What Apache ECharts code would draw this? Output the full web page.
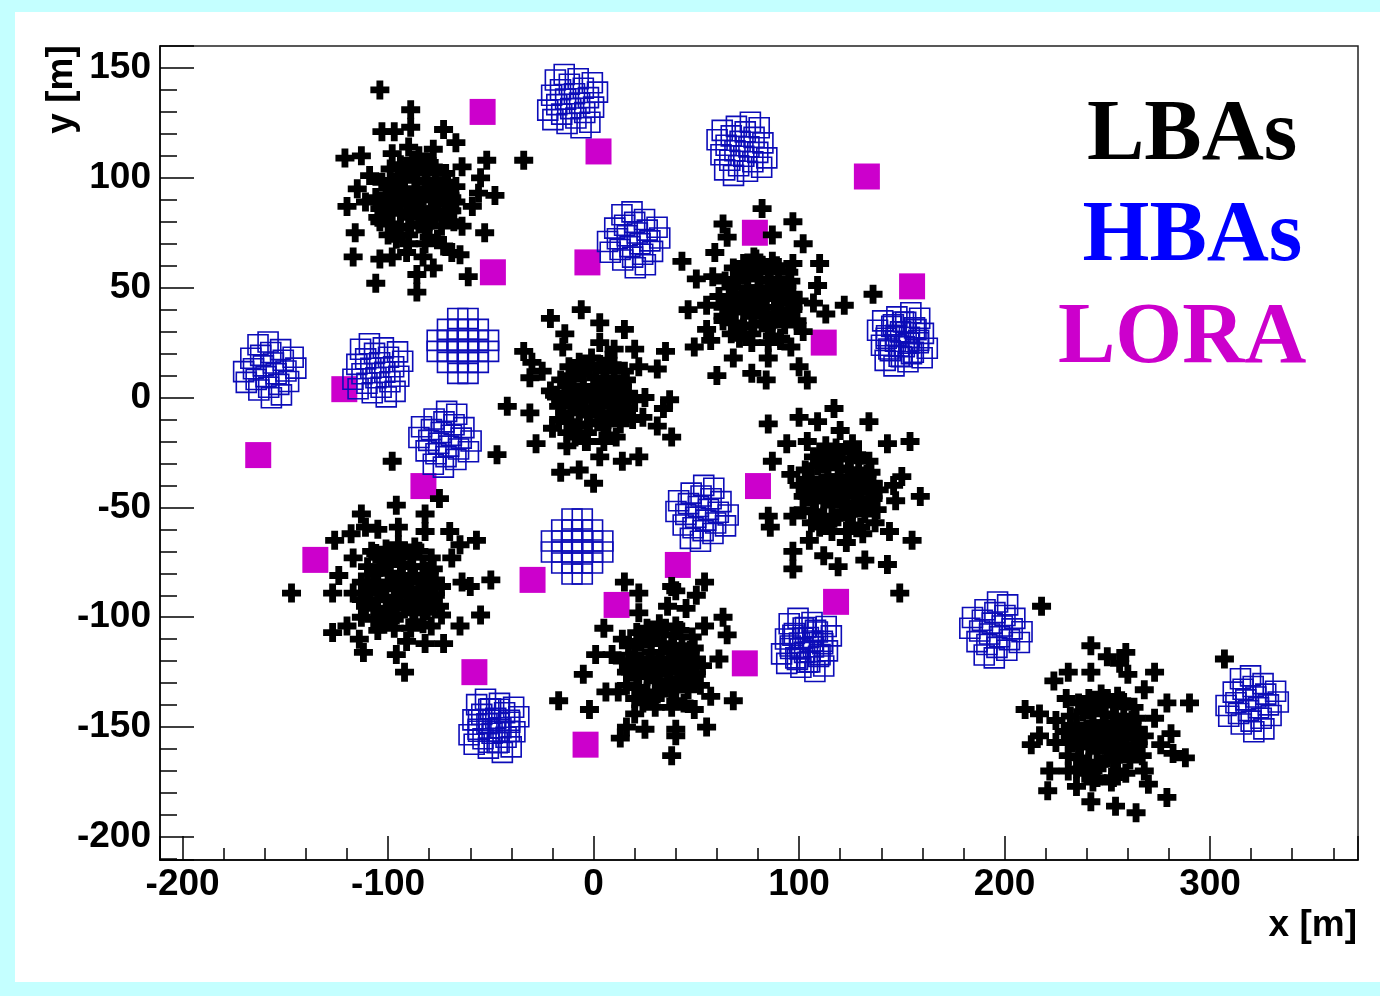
<!DOCTYPE html>
<html><head><meta charset="utf-8">
<script src="https://cdn.jsdelivr.net/npm/echarts@6/dist/echarts.min.js"></script>
<style>
html,body{margin:0;padding:0;background:#c4ffff;}
#wrap{position:relative;width:1380px;height:996px;background:#c4ffff;overflow:hidden;}
#panel{position:absolute;left:15px;top:12px;width:1365px;height:970px;background:#fff;}
#chart{position:absolute;left:0;top:0;width:1380px;height:996px;}
</style></head><body>
<div id="wrap"><div id="panel"></div><div id="chart"></div></div>
<script>
// axis ranges (metres)
const X_MIN = -211, X_MAX = 372, Y_MIN = -210.5, Y_MAX = 160;
const X_STEP = 100, Y_STEP = 50;

// LORA detectors
const loraDetectors = [
  [-54,130],[2.4,112],[133,100.6],[-49,57],[-3,61.5],[78.5,75],[155,50.6],[112,25],
  [-121.3,3.8],[-163.2,-26.2],[-82.8,-40.3],[80,-40.3],[-135.4,-73.9],[-29.7,-83],
  [41,-76.2],[11.2,-94.4],[118,-93],[-58,-125],[73.6,-121],[-3.9,-158]
];

// LBA stations (antenna positions, metres)
const lbaStation1 = [
  [-104,140],[-89,131],[-103,121],[-97,121],[-89,123],[-73,122],[-67,116],[-78,113],[-90,114],[-98,111],
  [-85,110],[-121,109],[-113,110],[-52,108],[-34,108],[-64,105],[-91,105],[-109,101],[-72,102],[-55,100],
  [-115,95],[-67,96],[-48,92],[-56,93],[-120,87],[-111,89],[-59,87],[-105,82],[-69,85],[-116,75],
  [-64,78],[-53,75],[-117,64],[-104,63],[-98,64],[-91,66],[-83,64],[-73,69],[-69,66],[-65,65],
  [-78,59],[-86,56],[-106,52],[-61,55],[-86,48],
  [-86,89],[-80,94],[-92,95],[-94,84],[-78,83],[-86,99],[-85,79],[-98,91],[-74,91],[-81,103],
  [-95,101],[-99,79],[-74,78],[-90,74],[-80,73],[-71,98],[-102,87],[-88,85],[-83,92],[-91,89],
  [-77,99],[-100,96],[-72,85],[-94,77],[-82,78],[-89,104],[-76,88],
  [-84,86],[-88,92],[-90,82],[-82,98],[-96,88],[-78,90],[-92,99],[-80,80],[-98,84],[-75,95],
  [-87,95],[-83,83],[-93,92],[-79,86],[-89,78],[-97,97],[-73,82],[-85,105],[-101,92],[-69,91],
  [-70,92],[-72,102],[-80,107],[-94,106],[-103,98],[-104,86],[-100,74],[-90,70],[-76,72],[-68,80],
  [-67,89],[-78,105],[-99,104],[-106,91],[-96,72],[-82,70],[-70,85],[-88,108],[-104,80],[-73,96]
];
const lbaStation2 = [
  [82,86],[97,80],[63,79],[102,70],[65,73],[87,74],[59,66],[43,62],[78,64],[110,61],
  [97,61],[50,54],[58,55],[109,51],[136,47],[122,42],[46,40],[55,42],[113,38],[107,43],
  [102,30],[63,37],[55,31],[57,26],[49,23],[68,18],[85,18],[77,11],[84,8],[60,10],
  [96,23],[100,14],[104,8],[91,26],
  [81,44],[87,49],[75,50],[73,39],[89,38],[81,54],[82,34],[69,46],[93,46],[86,58],
  [72,56],[68,34],[93,33],[77,29],[87,28],[96,53],[65,42],[79,40],[84,47],[76,44],
  [90,54],[67,51],[95,40],[73,32],[85,33],[78,59],[91,43],
  [83,41],[79,47],[77,37],[85,53],[71,43],[89,45],[75,54],[87,35],[69,39],[92,50],
  [80,50],[84,38],[74,47],[88,41],[78,33],[70,53],[94,36],[82,60],[66,46],[96,45],
  [97,47],[95,57],[87,62],[73,61],[64,53],[63,41],[67,29],[77,25],[91,27],[99,35],
  [100,44],[89,60],[68,59],[61,46],[71,27],[85,25],[97,40],[79,63],[63,35],[94,51]
];
const lbaStation3 = [
  [-21,36],[-6,40],[3,34],[15,31],[-14,29],[-15,23],[-34,21],[-30,16],[3,25],[10,22],
  [20,22],[35,21],[22,14],[31,13],[-31,9],[-25,12],[-42,-4],[-31,-7],[-21,3],[25,0],
  [37,-1],[34,-5],[24,-9],[31,-13],[38,-18],[-20,-14],[-28,-21],[-13,-22],[-4,-20],[3,-27],
  [14,-29],[22,-27],[-16,-34],[-7,-33],[0,-39],[-47,-26],
  [1,-1],[7,4],[-5,5],[-7,-6],[9,-7],[1,9],[2,-11],[-11,1],[13,1],[6,13],
  [-8,11],[-12,-11],[13,-12],[-3,-16],[7,-17],[16,8],[-15,-3],[-1,-5],[4,2],[-4,-1],
  [10,9],[-13,6],[15,-5],[-7,-13],[5,-12],[-2,14],[11,-2],
  [3,-4],[-1,2],[-3,-8],[5,8],[-9,-2],[9,0],[-5,11],[7,-10],[-11,-7],[12,5],
  [0,5],[4,-7],[-6,2],[8,-3],[-2,-12],[-10,10],[14,-9],[3,15],[-14,2],[15,1],
  [17,2],[15,12],[7,17],[-7,16],[-16,8],[-17,-4],[-13,-16],[-3,-20],[11,-18],[19,-10],
  [20,-1],[9,15],[-12,14],[-19,1],[-9,-18],[5,-20],[17,-5],[-1,18],[-17,-10],[14,6]
];
const lbaStation4 = [
  [-98,-29],[-75,-46],[-96,-49],[-113,-53],[-82,-53],[-111,-59],[-105,-60],[-95,-59],[-118,-62],[-126,-65],
  [-82,-61],[-70,-61],[-57,-65],[-65,-67],[-117,-73],[-108,-70],[-69,-73],[-124,-81],[-50,-83],[-64,-84],
  [-60,-86],[-147,-89],[-127,-89],[-117,-89],[-113,-92],[-55,-99],[-65,-104],[-120,-104],[-113,-100],[-127,-107],
  [-105,-106],[-74,-99],[-79,-104],[-114,-110],[-112,-116],[-91,-111],[-82,-112],[-73,-112],[-96,-117],[-92,-125],
  [-93,-86],[-87,-81],[-99,-80],[-101,-91],[-85,-92],[-93,-76],[-92,-96],[-105,-84],[-81,-84],[-88,-72],
  [-101,-74],[-106,-96],[-81,-97],[-97,-101],[-87,-102],[-78,-78],[-109,-89],[-94,-90],[-89,-84],[-97,-86],
  [-83,-77],[-107,-80],[-79,-91],[-100,-98],[-88,-97],[-95,-71],[-84,-87],
  [-91,-89],[-95,-83],[-97,-93],[-89,-77],[-103,-87],[-85,-88],[-99,-76],[-87,-98],[-105,-92],[-82,-81],
  [-94,-81],[-90,-94],[-100,-84],[-86,-90],[-96,-99],[-104,-77],[-80,-95],[-92,-70],[-110,-85],[-78,-86],
  [-77,-83],[-79,-73],[-87,-68],[-101,-69],[-110,-77],[-111,-89],[-107,-101],[-97,-105],[-83,-103],[-75,-95],
  [-74,-86],[-85,-70],[-106,-71],[-113,-84],[-103,-103],[-89,-105],[-77,-90],[-95,-67],[-111,-95],[-80,-79]
];
const lbaStation5 = [
  [85,-12],[100,-9],[109,-11],[117,-5],[120,-15],[134,-11],[143,-21],[154,-20],[94,-21],[104,-20],
  [113,-22],[126,-21],[87,-29],[96,-35],[150,-36],[159,-45],[146,-40],[147,-47],[85,-54],[86,-59],
  [97,-54],[144,-61],[155,-65],[105,-65],[97,-70],[97,-78],[112,-72],[119,-77],[132,-74],[143,-76],
  [149,-89],[123,-66],[131,-62],[137,-57],
  [120,-42],[126,-37],[114,-36],[112,-47],[128,-48],[120,-32],[121,-52],[108,-40],[132,-40],[125,-28],
  [111,-30],[107,-52],[132,-53],[116,-57],[126,-58],[135,-34],[104,-45],[118,-46],[123,-40],[115,-42],
  [129,-33],[106,-37],[134,-46],[112,-54],[124,-53],[117,-27],[130,-43],
  [122,-45],[118,-39],[116,-49],[124,-33],[110,-43],[128,-42],[114,-31],[126,-51],[108,-47],[131,-36],
  [119,-36],[123,-49],[113,-39],[127,-45],[117,-55],[109,-31],[133,-49],[121,-25],[105,-40],[135,-41],
  [136,-39],[134,-29],[126,-24],[112,-25],[103,-33],[102,-45],[106,-57],[116,-61],[130,-59],[138,-51],
  [139,-42],[128,-26],[107,-27],[100,-40],[110,-59],[124,-61],[136,-46],[118,-23],[102,-51],[133,-35]
];
const lbaStation6 = [
  [15,-84],[22,-89],[38,-86],[40,-88],[50,-90],[54,-84],[22,-98],[36,-95],[45,-96],[5,-105],
  [14,-110],[54,-104],[63,-100],[65,-108],[1,-117],[9,-117],[-5,-126],[61,-119],[6,-134],[12,-134],
  [-2,-142],[-17,-138],[57,-136],[68,-138],[49,-142],[20,-144],[25,-151],[16,-150],[13,-155],[40,-151],
  [40,-154],[55,-150],[38,-163],
  [34,-122],[40,-117],[28,-116],[26,-127],[42,-128],[34,-112],[35,-132],[22,-120],[46,-120],[39,-108],
  [25,-110],[21,-132],[46,-133],[30,-137],[40,-138],[49,-114],[18,-125],[32,-126],[37,-120],[29,-122],
  [43,-113],[20,-117],[48,-126],[26,-134],[38,-133],[31,-107],[44,-123],
  [36,-125],[32,-119],[30,-129],[38,-113],[24,-123],[42,-122],[28,-111],[40,-131],[22,-127],[45,-116],
  [33,-116],[37,-129],[27,-119],[41,-125],[31,-135],[23,-111],[47,-129],[35,-105],[19,-120],[49,-121],
  [50,-119],[48,-109],[40,-104],[26,-105],[17,-113],[16,-125],[20,-137],[30,-141],[44,-139],[52,-131],
  [53,-122],[42,-106],[21,-107],[14,-120],[24,-139],[38,-141],[50,-126],[32,-103],[16,-131],[47,-115]
];
const lbaStation7 = [
  [218,-95],[307,-119],[242,-113],[250,-118],[259,-116],[256,-121],[260,-126],[273,-125],[231,-125],[242,-125],
  [224,-129],[268,-133],[230,-137],[290,-139],[279,-139],[210,-142],[217,-144],[225,-147],[273,-146],[217,-154],
  [213,-158],[225,-157],[281,-153],[276,-158],[282,-162],[288,-164],[222,-170],[231,-170],[268,-170],[270,-176],
  [221,-179],[235,-177],[243,-175],[252,-175],[242,-184],[254,-186],[264,-189],[279,-182],
  [249,-154],[255,-149],[243,-148],[241,-159],[257,-160],[249,-144],[250,-164],[237,-152],[261,-152],[254,-140],
  [240,-142],[236,-164],[261,-165],[245,-169],[255,-170],[264,-146],[233,-157],[247,-158],[252,-152],[244,-154],
  [258,-145],[235,-149],[263,-158],[241,-166],[253,-165],[246,-139],[259,-155],
  [251,-157],[247,-151],[245,-161],[253,-145],[239,-155],[257,-154],[243,-143],[255,-163],[237,-159],[260,-148],
  [248,-148],[252,-161],[242,-151],[256,-157],[246,-167],[238,-143],[262,-161],[250,-137],[234,-152],[264,-153],
  [265,-151],[263,-141],[255,-136],[241,-137],[232,-145],[231,-157],[235,-169],[245,-173],[259,-171],[267,-163],
  [268,-154],[257,-138],[236,-139],[229,-152],[239,-171],[253,-173],[265,-158],[247,-135],[231,-163],[262,-147]
];

// HBA fields (tile positions, metres)
const hbaFieldA = [
  [-163.3,24.0],[-158.4,25.3],[-166.8,17.9],[-162.0,19.2],[-157.1,20.5],[-152.3,21.8],[-170.3,11.8],[-165.5,13.1],
  [-160.7,14.4],[-155.8,15.7],[-151.0,17.0],[-146.2,18.3],[-169.0,6.9],[-164.2,8.2],[-159.4,9.5],[-154.5,10.8],
  [-149.7,12.1],[-144.9,13.4],[-162.9,3.4],[-158.1,4.7],[-153.2,6.0],[-148.4,7.3],[-156.8,-0.1],[-151.9,1.2]
];
const hbaFieldB = [
  [-113.4,22.0],[-109.1,24.5],[-115.2,15.1],[-110.9,17.6],[-106.6,20.1],[-102.3,22.6],[-117.1,8.3],[-112.7,10.8],
  [-108.4,13.3],[-104.1,15.8],[-99.8,18.3],[-95.4,20.8],[-114.6,4.0],[-110.3,6.5],[-105.9,9.0],[-101.6,11.5],
  [-97.3,14.0],[-92.9,16.5],[-107.7,2.2],[-103.4,4.7],[-99.1,7.2],[-94.8,9.7],[-100.9,0.3],[-96.6,2.8]
];
const hbaFieldC = [
  [-66.1,36.0],[-61.1,36.0],[-71.1,31.0],[-66.1,31.0],[-61.1,31.0],[-56.1,31.0],
  [-76.1,26.0],[-71.1,26.0],[-66.1,26.0],[-61.1,26.0],[-56.1,26.0],[-51.1,26.0],
  [-76.1,21.0],[-71.1,21.0],[-66.1,21.0],[-61.1,21.0],[-56.1,21.0],[-51.1,21.0],
  [-71.1,16.0],[-66.1,16.0],[-61.1,16.0],[-56.1,16.0],[-66.1,11.0],[-61.1,11.0]
];
const hbaFieldD = [
  [-66.6,-7.6],[-71.5,-6.3],[-63.1,-13.7],[-67.9,-12.4],[-72.8,-11.1],[-77.6,-9.8],[-59.6,-19.8],[-64.4,-18.5],
  [-69.2,-17.2],[-74.1,-15.9],[-78.9,-14.6],[-83.7,-13.3],[-60.9,-24.7],[-65.7,-23.4],[-70.5,-22.1],[-75.4,-20.8],
  [-80.2,-19.5],[-85.0,-18.2],[-67.0,-28.2],[-71.8,-26.9],[-76.7,-25.6],[-81.5,-24.3],[-73.1,-31.7],[-78.0,-30.4]
];
const hbaFieldE = [
  [-18.6,144.5],[-14.3,147.0],[-20.4,137.6],[-16.1,140.1],[-11.8,142.6],[-7.5,145.1],[-22.3,130.8],[-17.9,133.3],
  [-13.6,135.8],[-9.3,138.3],[-5.0,140.8],[-0.6,143.3],[-19.8,126.5],[-15.5,129.0],[-11.1,131.5],[-6.8,134.0],
  [-2.5,136.5],[1.9,139.0],[-12.9,124.7],[-8.6,127.2],[-4.3,129.7],[0.0,132.2],[-6.1,122.8],[-1.8,125.3]
];
const hbaFieldF = [
  [80.6,122.8],[76.3,125.3],[82.4,115.9],[78.1,118.4],[73.8,120.9],[69.5,123.4],[84.3,109.1],[79.9,111.6],
  [75.6,114.1],[71.3,116.6],[67.0,119.1],[62.6,121.6],[81.8,104.8],[77.5,107.3],[73.1,109.8],[68.8,112.3],
  [64.5,114.8],[60.1,117.3],[74.9,103.0],[70.6,105.5],[66.3,108.0],[62.0,110.5],[68.1,101.1],[63.8,103.6]
];
const hbaFieldG = [
  [13.8,83.2],[18.7,84.5],[10.3,77.1],[15.1,78.4],[20.0,79.7],[24.8,81.0],[6.8,71.0],[11.6,72.3],
  [16.4,73.6],[21.3,74.9],[26.1,76.2],[30.9,77.5],[8.1,66.1],[12.9,67.4],[17.7,68.7],[22.6,70.0],
  [27.4,71.3],[32.2,72.6],[14.2,62.6],[19.0,63.9],[23.9,65.2],[28.7,66.5],[20.3,59.1],[25.2,60.4]
];
const hbaFieldH = [
  [158.7,36.1],[154.4,38.6],[160.5,29.2],[156.2,31.7],[151.9,34.2],[147.6,36.7],[162.4,22.4],[158.0,24.9],
  [153.7,27.4],[149.4,29.9],[145.1,32.4],[140.7,34.9],[159.9,18.1],[155.6,20.6],[151.2,23.1],[146.9,25.6],
  [142.6,28.1],[138.2,30.6],[153.0,16.3],[148.7,18.8],[144.4,21.3],[140.1,23.8],[146.2,14.4],[141.9,16.9],
  [145.9,33.1],[150.8,34.4],[142.4,27.0],[147.2,28.3],[152.1,29.6],[156.9,30.9],[143.7,22.1],[148.5,23.4],
  [153.4,24.7],[158.2,26.0],[149.8,18.6],[154.7,19.9]
];
const hbaFieldI = [
  [58.5,-41.3],[53.6,-40.0],[62.0,-47.4],[57.2,-46.1],[52.3,-44.8],[47.5,-43.5],[65.5,-53.5],[60.7,-52.2],
  [55.9,-50.9],[51.0,-49.6],[46.2,-48.3],[41.4,-47.0],[64.2,-58.4],[59.4,-57.1],[54.6,-55.8],[49.7,-54.5],
  [44.9,-53.2],[40.1,-51.9],[58.1,-61.9],[53.3,-60.6],[48.4,-59.3],[43.6,-58.0],[52.0,-65.4],[47.1,-64.1]
];
const hbaFieldJ = [
  [-10.5,-55.3],[-5.5,-55.3],[-15.5,-60.3],[-10.5,-60.3],[-5.5,-60.3],[-0.5,-60.3],
  [-20.5,-65.3],[-15.5,-65.3],[-10.5,-65.3],[-5.5,-65.3],[-0.5,-65.3],[4.5,-65.3],
  [-20.5,-70.3],[-15.5,-70.3],[-10.5,-70.3],[-5.5,-70.3],[-0.5,-70.3],[4.5,-70.3],
  [-15.5,-75.3],[-10.5,-75.3],[-5.5,-75.3],[-0.5,-75.3],[-10.5,-80.3],[-5.5,-80.3]
];
const hbaFieldK = [
  [95.2,-103.0],[99.5,-100.5],[93.4,-109.9],[97.7,-107.4],[102.0,-104.9],[106.3,-102.4],[91.5,-116.7],[95.9,-114.2],
  [100.2,-111.7],[104.5,-109.2],[108.9,-106.7],[113.2,-104.2],[94.0,-121.0],[98.4,-118.5],[102.7,-116.0],[107.0,-113.5],
  [111.3,-111.0],[115.7,-108.5],[100.9,-122.8],[105.2,-120.3],[109.5,-117.8],[113.8,-115.3],[107.7,-124.7],[112.0,-122.2],
  [108.0,-106.0],[103.1,-104.7],[111.5,-112.1],[106.7,-110.8],[101.8,-109.5],[97.0,-108.2],[110.2,-117.0],[105.4,-115.7],
  [100.5,-114.4],[95.7,-113.1],[104.1,-120.5],[99.2,-119.2]
];
const hbaFieldL = [
  [-56.9,-139.8],[-52.6,-137.3],[-58.7,-146.7],[-54.4,-144.2],[-50.1,-141.7],[-45.8,-139.2],[-60.6,-153.5],[-56.2,-151.0],
  [-51.9,-148.5],[-47.6,-146.0],[-43.3,-143.5],[-38.9,-141.0],[-58.1,-157.8],[-53.8,-155.3],[-49.4,-152.8],[-45.1,-150.3],
  [-40.8,-147.8],[-36.4,-145.3],[-51.2,-159.6],[-46.9,-157.1],[-42.6,-154.6],[-38.3,-152.1],[-44.4,-161.5],[-40.1,-159.0],
  [-51.0,-141.9],[-46.0,-141.9],[-56.0,-146.9],[-51.0,-146.9],[-46.0,-146.9],[-41.0,-146.9],[-56.0,-151.9],[-51.0,-151.9],
  [-46.0,-151.9],[-41.0,-151.9],[-51.0,-156.9],[-46.0,-156.9]
];
const hbaFieldM = [
  [201.5,-94.4],[196.6,-93.1],[205.0,-100.5],[200.2,-99.2],[195.3,-97.9],[190.5,-96.6],[208.5,-106.6],[203.7,-105.3],
  [198.9,-104.0],[194.0,-102.7],[189.2,-101.4],[184.4,-100.1],[207.2,-111.5],[202.4,-110.2],[197.6,-108.9],[192.7,-107.6],
  [187.9,-106.3],[183.1,-105.0],[201.1,-115.0],[196.3,-113.7],[191.4,-112.4],[186.6,-111.1],[195.0,-118.5],[190.1,-117.2]
];
const hbaFieldN = [
  [314.8,-128.0],[319.7,-126.7],[311.3,-134.1],[316.1,-132.8],[321.0,-131.5],[325.8,-130.2],[307.8,-140.2],[312.6,-138.9],
  [317.4,-137.6],[322.3,-136.3],[327.1,-135.0],[331.9,-133.7],[309.1,-145.1],[313.9,-143.8],[318.7,-142.5],[323.6,-141.2],
  [328.4,-139.9],[333.2,-138.6],[315.2,-148.6],[320.0,-147.3],[324.9,-146.0],[329.7,-144.7],[321.3,-152.1],[326.2,-150.8]
];

const lbaAll = [].concat(lbaStation1, lbaStation2, lbaStation3, lbaStation4, lbaStation5, lbaStation6, lbaStation7);
const hbaAll = [].concat(hbaFieldA, hbaFieldB, hbaFieldC, hbaFieldD, hbaFieldE, hbaFieldF, hbaFieldG,
                         hbaFieldH, hbaFieldI, hbaFieldJ, hbaFieldK, hbaFieldL, hbaFieldM, hbaFieldN);

const crossSymbol = 'path://M32,0H68V32H100V68H68V100H32V68H0V32H32Z';
const labelFont = {fontFamily: '"Liberation Sans", Arial, sans-serif', fontWeight: 'bold', fontSize: 37, color: '#000'};

const chart = echarts.init(document.getElementById('chart'), null, {renderer: 'canvas'});
chart.setOption({
  animation: false,
  backgroundColor: 'transparent',
  grid: {left: 160, top: 46, width: 1198, height: 814, show: true, borderColor: '#222', borderWidth: 1.5, backgroundColor: 'transparent'},
  xAxis: {
    type: 'value', min: X_MIN, max: X_MAX, splitNumber: 5,
    axisLine: {show: true, onZero: false, lineStyle: {color: '#000', width: 1.5}},
    axisTick: {show: true, inside: true, length: 24, lineStyle: {color: '#000', width: 1.5}},
    minorTick: {show: true, splitNumber: 5, length: 12, lineStyle: {color: '#000', width: 1.5}},
    splitLine: {show: false}, minorSplitLine: {show: false},
    axisLabel: Object.assign({margin: 6, formatter: v => (Math.abs(v % X_STEP) < 1e-6 ? String(v) : '')}, labelFont)
  },
  yAxis: {
    type: 'value', min: Y_MIN, max: Y_MAX, splitNumber: 7,
    axisLine: {show: true, onZero: false, lineStyle: {color: '#000', width: 1.5}},
    axisTick: {show: true, inside: true, length: 34, lineStyle: {color: '#000', width: 1.5}},
    minorTick: {show: true, splitNumber: 5, length: 17, lineStyle: {color: '#000', width: 1.5}},
    splitLine: {show: false}, minorSplitLine: {show: false},
    axisLabel: Object.assign({margin: 9, formatter: v => (Math.abs(v % Y_STEP) < 1e-6 ? String(v) : '')}, labelFont)
  },
  series: [
    {type: 'scatter', name: 'LORA', data: loraDetectors, symbol: 'rect', symbolSize: 26,
     itemStyle: {color: '#cc00cc', opacity: 1}, z: 2, silent: true},
    {type: 'scatter', name: 'LBAs', data: lbaAll, symbol: crossSymbol, symbolSize: 19,
     itemStyle: {color: '#000', opacity: 1}, z: 3, silent: true},
    {type: 'scatter', name: 'HBAs', data: hbaAll, symbol: 'rect', symbolSize: 20,
     itemStyle: {color: 'rgba(0,0,0,0)', borderColor: '#0c0cb8', borderWidth: 1.6, opacity: 1}, z: 4, silent: true}
  ],
  graphic: [
    {type: 'text', x: 1087, y: 136.5, style: {text: 'LBAs', fontFamily: '"Liberation Serif", serif', fontWeight: 'bold', fontSize: 86, fill: '#000', align: 'left', verticalAlign: 'middle'}},
    {type: 'text', x: 1082.5, y: 238, style: {text: 'HBAs', fontFamily: '"Liberation Serif", serif', fontWeight: 'bold', fontSize: 86, fill: '#0000ff', align: 'left', verticalAlign: 'middle'}},
    {type: 'text', x: 1058, y: 339.5, style: {text: 'LORA', fontFamily: '"Liberation Serif", serif', fontWeight: 'bold', fontSize: 86, fill: '#cc00cc', align: 'left', verticalAlign: 'middle'}},
    {type: 'text', x: 1357, y: 926, style: {text: 'x [m]', fontFamily: '"Liberation Sans", Arial, sans-serif', fontWeight: 'bold', fontSize: 37, fill: '#000', align: 'right', verticalAlign: 'middle'}},
    {type: 'text', x: 62, y: 89.5, rotation: Math.PI / 2, style: {text: 'y [m]', fontFamily: '"Liberation Sans", Arial, sans-serif', fontWeight: 'bold', fontSize: 37, fill: '#000', align: 'center', verticalAlign: 'middle'}}
  ]
});
</script></body></html>
